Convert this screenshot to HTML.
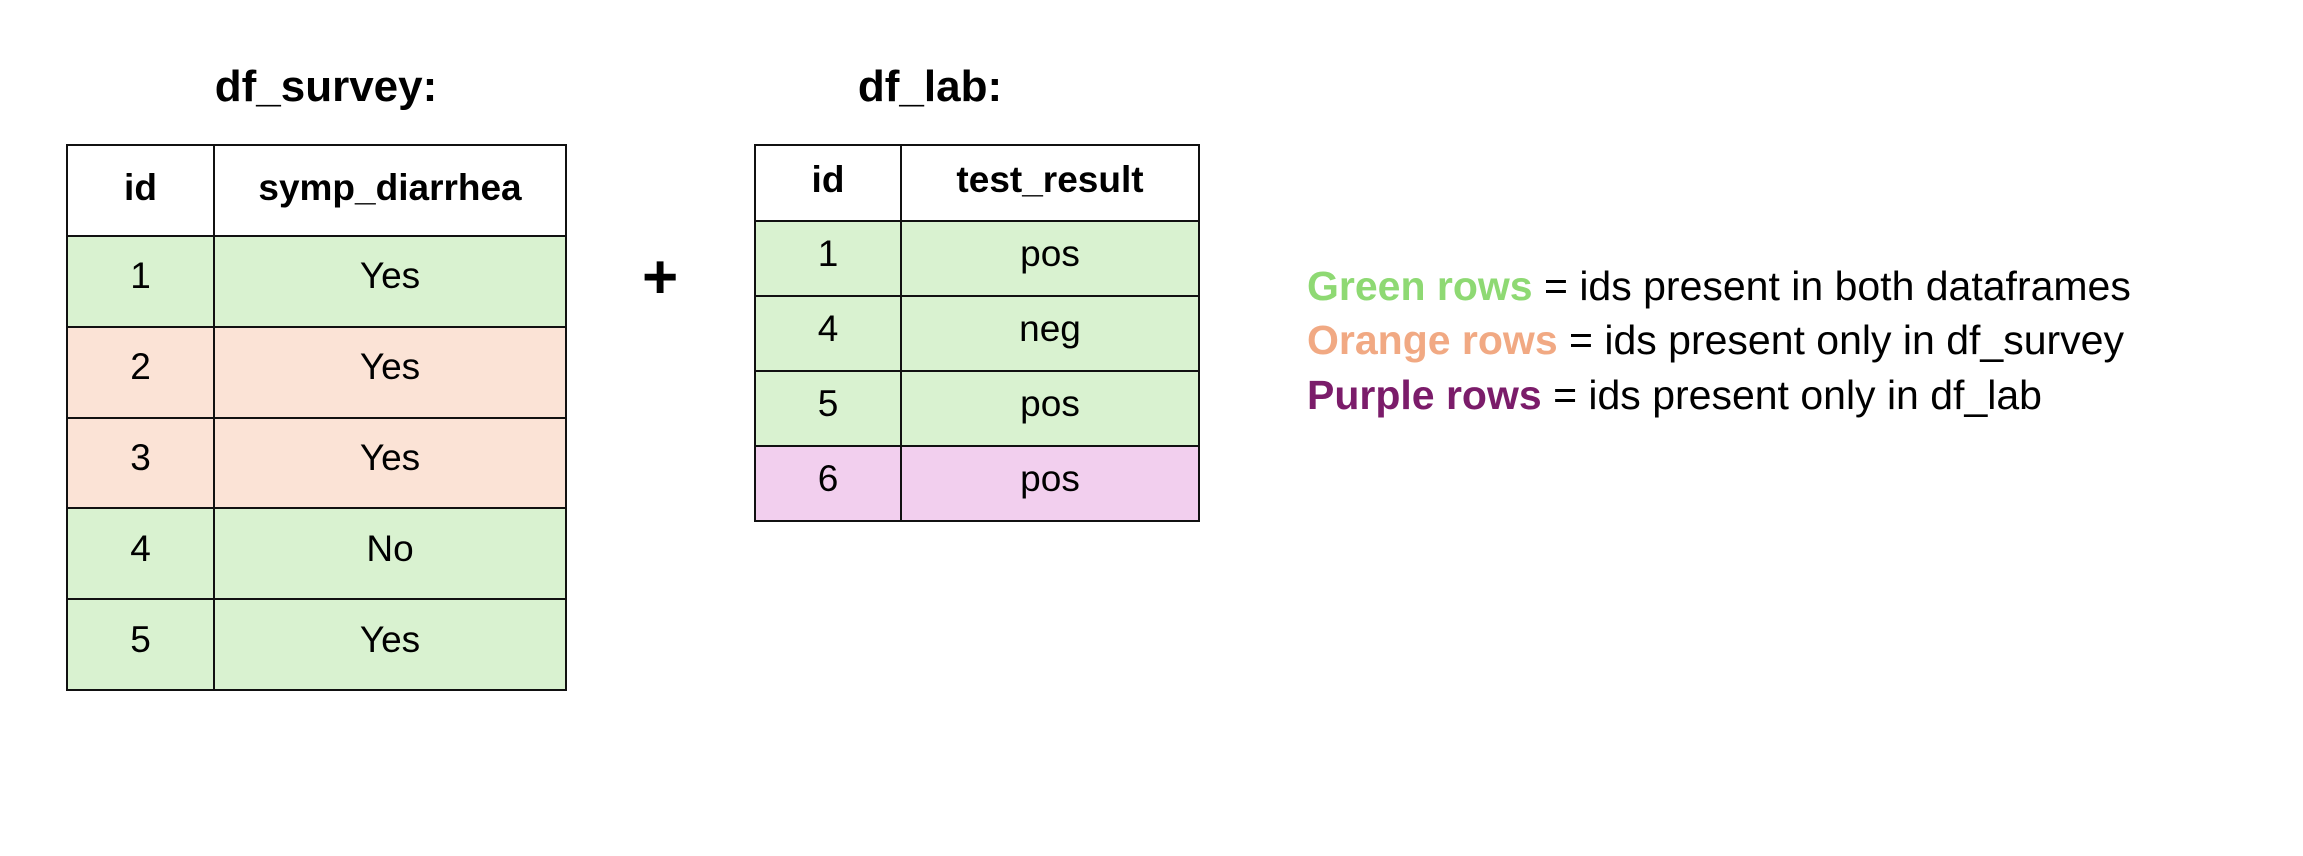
<!DOCTYPE html>
<html><head><style>
body{margin:0;width:2303px;height:856px;background:#fff;position:relative;overflow:hidden;font-family:"Liberation Sans",sans-serif;color:#000}
.t{position:absolute;font-weight:bold;font-size:44px;text-align:center}
table{position:absolute;border-collapse:collapse}
td{border:2px solid #111;text-align:center;font-size:37px;padding:0 0 10px 0}
th{border:2px solid #111;font-size:37px;font-weight:bold;background:#fff;padding:0 0 6px 0}
.g{background:#d9f2d0}.o{background:#fbe3d6}.p{background:#f2cfee}
.leg{position:absolute;left:1307px;font-size:41px;white-space:nowrap}
</style></head><body>
<div class="t" style="left:166px;top:62px;width:320px">df_survey:</div>
<div class="t" style="left:800px;top:62px;width:260px">df_lab:</div>
<table style="left:66px;top:144px;width:501px;height:547px">
<tr style="height:91px"><th style="width:145px">id</th><th>symp_diarrhea</th></tr>
<tr class="g"><td>1</td><td>Yes</td></tr>
<tr class="o"><td>2</td><td>Yes</td></tr>
<tr class="o"><td>3</td><td>Yes</td></tr>
<tr class="g"><td>4</td><td>No</td></tr>
<tr class="g"><td>5</td><td>Yes</td></tr>
</table>
<div style="position:absolute;left:642px;top:242px;font-size:62px;font-weight:bold">+</div>
<table style="left:754px;top:144px;width:446px;height:378px">
<tr style="height:76px"><th style="width:144px">id</th><th>test_result</th></tr>
<tr class="g"><td>1</td><td>pos</td></tr>
<tr class="g"><td>4</td><td>neg</td></tr>
<tr class="g"><td>5</td><td>pos</td></tr>
<tr class="p"><td>6</td><td>pos</td></tr>
</table>
<div class="leg" style="top:263px"><b style="color:#8ed973">Green rows</b> = ids present in both dataframes</div>
<div class="leg" style="top:317px"><b style="color:#f1a983">Orange rows</b> = ids present only in df_survey</div>
<div class="leg" style="top:372px"><b style="color:#7b1c6a">Purple rows</b> = ids present only in df_lab</div>
</body></html>
